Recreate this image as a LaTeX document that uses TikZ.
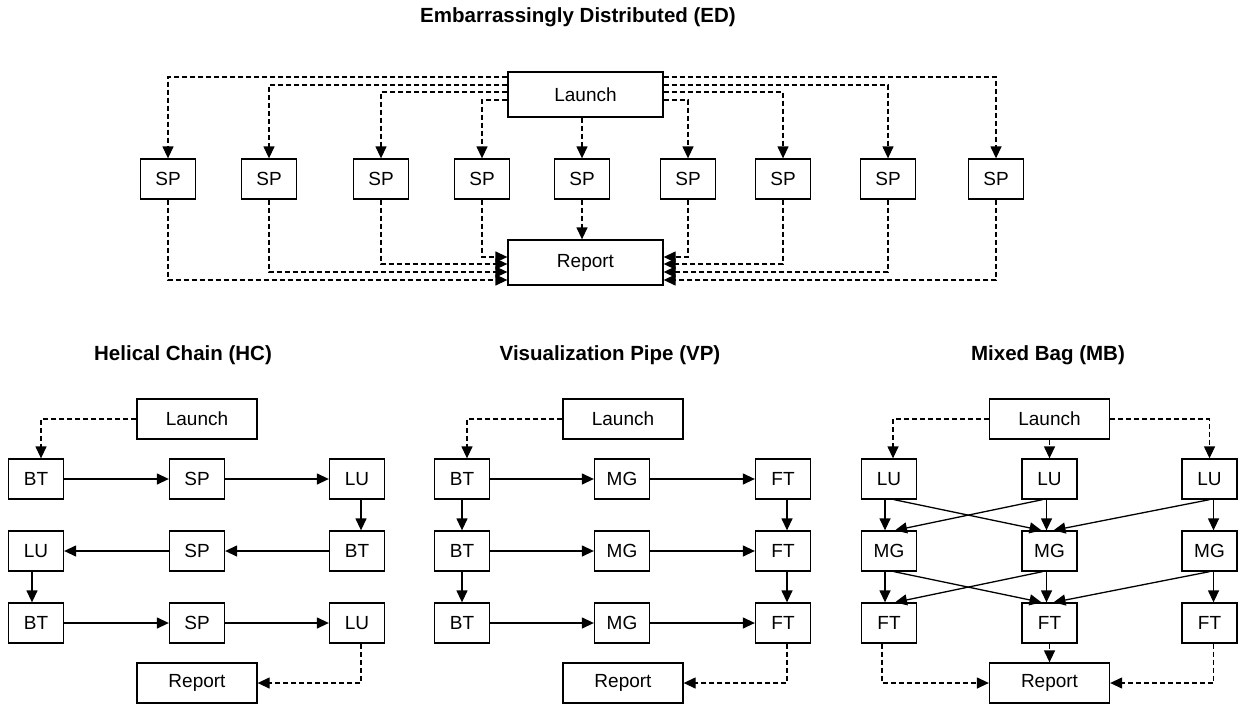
\documentclass[tikz,border=0pt]{standalone}
\usepackage{fontspec}
\setmainfont{Liberation Sans}
\usetikzlibrary{arrows.meta, positioning}

\tikzset{
  blk/.style={draw, line width=1.3pt, minimum width=55pt, minimum height=40pt, inner sep=0pt, font=\fontsize{19}{22}\selectfont},
  wideblk/.style={blk, minimum width=120pt},
  edblk/.style={blk, minimum width=155pt, minimum height=45pt},
  title/.style={font=\fontsize{20.5}{24}\selectfont\bfseries},
  flow/.style={->, line width=1.3pt},
  ctrl/.style={->, line width=1.3pt, dash pattern=on 5pt off 3pt},
}

\begin{document}
\begin{tikzpicture}[x=1pt, y=-1pt, >={Triangle[length=12pt, width=11pt]}]
		\useasboundingbox (0,0) rectangle (1244,706);

		% Embarrassingly Distributed
		\node[title] (edt) at (578,17) {Embarrassingly Distributed (ED)};
		\node[edblk] (edl) at (585.5,94.5) {Launch};
		\node[edblk] (edr) at (585.5,262.5) {Report};
		\foreach \x [count=\i] in {168,269,381,482,582,688,783,888,996}
			\node[blk] (sp\i) at (\x,179) {SP};
		\foreach \i/\d in {1/17.5, 2/9.5, 3/2.5, 4/-5.5}
			\draw[ctrl] ([yshift=\d pt]edl.west) -| (sp\i);
		\foreach \i/\d in {9/17.5, 8/9.5, 7/2.5, 6/-5.5}
			\draw[ctrl] ([yshift=\d pt]edl.east) -| (sp\i);
		\draw[ctrl] (sp5.north |- edl.south) -- (sp5);
		\foreach \i/\d in {4/5.5, 3/-1.5, 2/-9.5, 1/-17.5}
			\draw[ctrl] (sp\i) |- ([yshift=\d pt]edr.west);
		\foreach \i/\d in {6/5.5, 7/-1.5, 8/-9.5, 9/-17.5}
			\draw[ctrl] (sp\i) |- ([yshift=\d pt]edr.east);
		\draw[ctrl] (sp5) -- (sp5.south |- edr.north);

		% Helical Chain
		\node[title] (hct) at (183,355) {Helical Chain (HC)};
		\node[wideblk] (hcla) at (197,419) {Launch};
		\node[blk] (hcb1) at (36,479) {BT};
		\node[blk] (hcs1) at (197,479) {SP};
		\node[blk] (hcl1) at (357,479) {LU};
		\node[blk] (hcl2) at (36,551) {LU};
		\node[blk] (hcs2) at (197,551) {SP};
		\node[blk] (hcb2) at (357,551) {BT};
		\node[blk] (hcb3) at (36,623) {BT};
		\node[blk] (hcs3) at (197,623) {SP};
		\node[blk] (hcl3) at (357,623) {LU};
		\node[wideblk] (hcr) at (197,683) {Report};
		\draw[ctrl] (hcla) -| ([xshift=5pt]hcb1.north);
		\draw[flow] (hcb1) -- (hcs1);
		\draw[flow] (hcs1) -- (hcl1);
		\draw[flow] ([xshift=4pt]hcl1.south) -- ([xshift=4pt]hcb2.north);
		\draw[flow] (hcb2) -- (hcs2);
		\draw[flow] (hcs2) -- (hcl2);
		\draw[flow] ([xshift=-4pt]hcl2.south) -- ([xshift=-4pt]hcb3.north);
		\draw[flow] (hcb3) -- (hcs3);
		\draw[flow] (hcs3) -- (hcl3);
		\draw[ctrl] ([xshift=4pt]hcl3.south) |- (hcr);

		% Visualization Pipe
		\node[title] (vpt) at (610,355) {Visualization Pipe (VP)};
		\node[wideblk] (vpla) at (623,419) {Launch};
		\foreach \y [count=\i] in {479,551,623} {
			\node[blk] (vpb\i) at (462,\y) {BT};
			\node[blk] (vpm\i) at (622,\y) {MG};
			\node[blk] (vpf\i) at (783,\y) {FT};
			\draw[flow] (vpb\i) -- (vpm\i);
			\draw[flow] (vpm\i) -- (vpf\i);
		}
		\node[wideblk] (vpr) at (623,683) {Report};
		\draw[ctrl] (vpla) -| ([xshift=5pt]vpb1.north);
		\draw[flow] (vpb1) -- (vpb2);
		\draw[flow] (vpb2) -- (vpb3);
		\draw[flow] ([xshift=4pt]vpf1.south) -- ([xshift=4pt]vpf2.north);
		\draw[flow] ([xshift=4pt]vpf2.south) -- ([xshift=4pt]vpf3.north);
		\draw[ctrl] ([xshift=4pt]vpf3.south) |- (vpr);

		% Mixed Bag
		\node[title] (mbt) at (1048,355) {Mixed Bag (MB)};
		\node[wideblk] (mbla) at (1049.5,419) {Launch};
		\foreach \x [count=\i] in {889,1049.5,1209.5} {
			\node[blk] (mbl\i) at (\x,479) {LU};
			\node[blk] (mbm\i) at (\x,551) {MG};
			\node[blk] (mbf\i) at (\x,623) {FT};
		}
		\node[wideblk] (mbr) at (1049.5,683) {Report};
		\draw[ctrl] (mbla) -| ([xshift=4pt]mbl1.north);
		\draw[ctrl] (mbl2.north |- mbla.south) -- (mbl2);
		\draw[ctrl] (mbla) -| (mbl3);
		\foreach \u/\v in {l/m, m/f} {
			\draw[flow] ([xshift=-4pt]mb\u1.south) -- ([xshift=-4pt]mb\v1.north);
			\draw[flow] ([xshift=5pt]mb\u1.south) -- ([xshift=-8pt]mb\v2.north);
			\draw[flow] ([xshift=-7pt]mb\u2.south) -- ([xshift=6pt]mb\v1.north);
			\draw[flow] ([xshift=-3pt]mb\u2.south) -- ([xshift=-3pt]mb\v2.north);
			\draw[flow] (mb\u3.south) -- ([xshift=4pt]mb\v2.north);
			\draw[flow] ([xshift=4pt]mb\u3.south) -- ([xshift=4pt]mb\v3.north);
		}
		\draw[ctrl] ([xshift=-7pt]mbf1.south) |- (mbr);
		\draw[ctrl] (mbf2) -- (mbr);
		\draw[ctrl] ([xshift=4pt]mbf3.south) |- (mbr);
	\end{tikzpicture}
\end{document}
